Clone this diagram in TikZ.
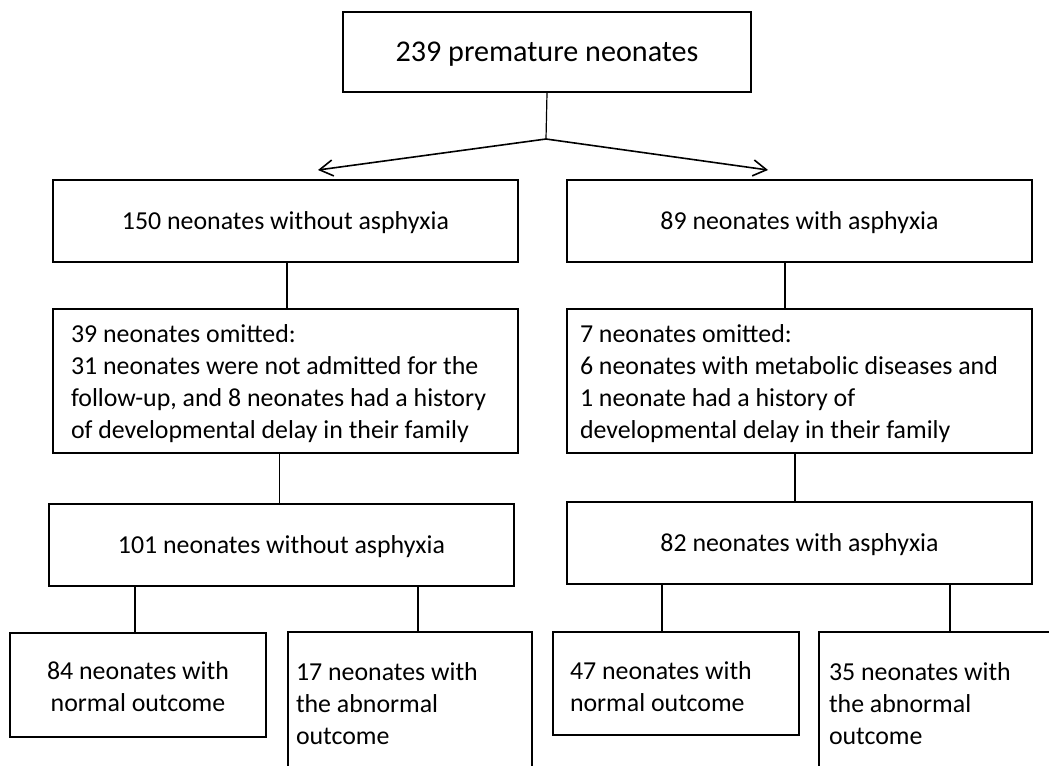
\documentclass[tikz,border=0pt]{standalone}
\usepackage{fontspec}
\setmainfont{Carlito}
\usetikzlibrary{arrows.meta}
\tikzset{
  box/.style={draw, line width=1.5pt, inner sep=0pt, align=center, font=\fontsize{19.4}{24}\selectfont},
  linebox/.style={box, text depth=0pt, minimum width=348.75pt, minimum height=61.5pt},
  topbox/.style={box, text depth=0pt, font=\fontsize{22.6}{27}\selectfont},
  notebox/.style={box, align=flush left},
  stem/.style={line width=0.9pt},
  arrow/.style={-{Straight Barb[length=10pt,width=12pt]}, line width=1.2pt}
}

\begin{document}
\begin{tikzpicture}[x=0.75pt, y=-0.75pt]
  \path[use as bounding box, clip] (0,0) rectangle (1049,765);

  % study population
  \node[topbox, minimum width=306pt, minimum height=60pt] (all) at (547,52) {239 premature neonates};
  \node[linebox] (noasL) at (285.5,221) {150 neonates without asphyxia};
  \node[linebox] (asR) at (799.5,221) {89 neonates with asphyxia};

  % exclusions
  \node[notebox, inner xsep=13.5pt, text width=321.75pt, minimum height=108pt, text height=13.5pt, text depth=72pt] (omitL) at (285.5,381)
    {39 neonates omitted:\\31 neonates were not admitted for the\\follow-up, and 8 neonates had a history\\of developmental delay in their family};
  \node[notebox, inner xsep=9.75pt, text width=329.25pt, minimum height=108pt, text height=14.25pt, text depth=72pt] (omitR) at (799.5,380.5)
    {7 neonates omitted:\\6 neonates with metabolic diseases and\\1 neonate had a history of\\developmental delay in their family};

  % remaining groups
  \node[linebox] (restL) at (281.5,545) {101 neonates without asphyxia};
  \node[linebox] (restR) at (799.5,543) {82 neonates with asphyxia};

  % outcomes
  \node[box, align=flush center, text width=192pt, minimum height=78pt, text height=15pt, text depth=24pt] (outA) at (138,685) {84 neonates with\\normal outcome};
  \node[notebox, inner xsep=6pt, text width=171pt, minimum height=108pt] (outB) at (410,704) {17 neonates with\\the abnormal\\outcome};
  \node[notebox, inner xsep=12.75pt, text width=159pt, minimum height=77.25pt, text height=17.25pt, text depth=24pt] (outC) at (676,683.5) {47 neonates with\\normal outcome};
  \node[notebox, inner xsep=7.5pt, text width=169.5pt, minimum height=108pt] (outD) at (942,704) {35 neonates with\\the abnormal\\outcome};

  % split into the two groups
  \coordinate (split) at (546,139);
  \coordinate (tipL) at (318,170);
  \coordinate (tipR) at (768,170);
  \draw[stem] (all.south) -- (split);
  \draw[arrow] (split) -- (tipL);
  \draw[arrow] (split) -- (tipR);

  % vertical links
  \foreach \a/\b/\s in {noasL/omitL/1.1, asR/omitR/-10.9, omitL/restL/-4.5, omitR/restR/-3.4}{
    \coordinate (top) at ([xshift=\s pt]\a.south);
    \draw[stem] (top) -- (top |- \b.north);
  }
  \foreach \a/\b/\s in {restL/outA/-2.25, restL/outB/6, restR/outC/-10.5, restR/outD/6}{
    \coordinate (bot) at ([xshift=\s pt]\b.north);
    \draw[stem] (bot) -- (bot |- \a.south);
  }
\end{tikzpicture}
\end{document}
